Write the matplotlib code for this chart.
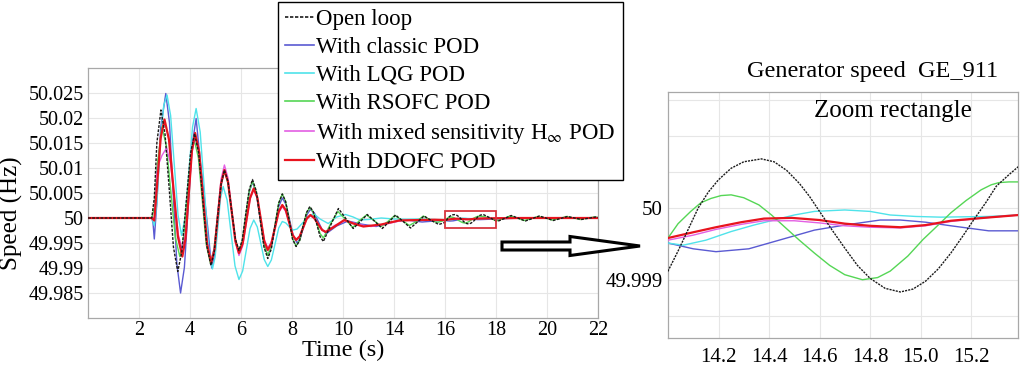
import matplotlib
matplotlib.use('Agg')
import matplotlib.pyplot as plt
from matplotlib.patches import Rectangle, FancyArrow
from matplotlib.lines import Line2D

plt.rcParams['font.family'] = ['Liberation Serif', 'DejaVu Serif']
plt.rcParams['mathtext.fontset'] = 'stix'

# ---------------- data ----------------
t_open = [0, 2.5, 2.6, 2.7, 2.86, 3.02, 3.19, 3.35, 3.52, 3.68, 3.85, 4.02, 4.18, 4.34, 4.5, 4.66, 4.82, 4.95, 5.08, 5.22,
          5.35, 5.49, 5.63, 5.78, 5.92, 6.05, 6.18, 6.32, 6.45, 6.6, 6.75, 6.9, 7.05, 7.19, 7.33, 7.48, 7.62, 7.75, 7.89, 8.02,
          8.16, 8.3, 8.43, 8.57, 8.7, 8.83, 8.97, 9.1, 9.23, 9.52, 9.82, 10.11, 10.4, 10.68, 10.95, 11.25, 11.54, 11.8, 12.06,
          12.36, 12.65, 12.92, 13.18, 13.46, 13.76,
          14.0, 14.04, 14.08, 14.12, 14.16, 14.2, 14.25, 14.3, 14.37, 14.42, 14.47, 14.52, 14.56, 14.6, 14.65, 14.7, 14.75,
          14.8, 14.86, 14.92, 14.97, 15.02, 15.07, 15.12, 15.17, 15.21, 15.26, 15.3, 15.35, 15.39,
          15.5, 15.78, 16.05, 16.33, 16.6, 16.88, 17.15, 17.43, 17.7, 17.98, 18.25, 18.53, 18.8, 19.08, 19.35, 19.63,
          19.9, 20.0]
v_open = [50.0, 50.0, 50.004, 50.015, 50.0216, 50.0168, 50.0055, 49.9942, 49.9893, 49.9933, 50.0031, 50.0129, 50.0169,
          50.0130, 50.0037, 49.9944, 49.9905, 49.9932, 50.0000, 50.0068, 50.0096, 50.0073, 50.0016, 49.9958, 49.9935,
          49.9956, 50.0006, 50.0056, 50.0077, 50.0054, 49.9998, 49.9942, 49.9919, 49.9938, 49.9984, 50.0030, 50.0048,
          50.0033, 49.9996, 49.9958, 49.9943, 49.9955, 49.9983, 50.0011, 50.0023, 50.0013, 49.9988, 49.9963, 49.9953,
          49.9986, 50.0019, 49.9999, 49.9979, 49.9993, 50.0007, 49.9993, 49.9979, 49.9992, 50.0006, 49.9993, 49.9980,
          49.9992, 50.0004, 49.9995, 49.9987,
          49.99912, 49.9994, 49.9997, 50.0, 50.00022, 50.00039, 50.00055, 50.00064, 50.00068, 50.00064, 50.00052,
          50.00034, 50.00016, 49.99995, 49.99969, 49.99944, 49.9992, 49.99902, 49.99888, 49.99883, 49.99887, 49.99898,
          49.99915, 49.99937, 49.99962, 49.99983, 50.00008, 50.0003, 50.00046, 50.00058,
          50.0007, 50.0000, 49.9993, 49.9999, 50.0005, 49.99995, 49.9994, 49.9999, 50.0004, 49.99995, 49.9995,
          49.9999, 50.0003, 50.0, 49.9997, 49.99995, 50.0002, 50.0001]

t_classic = [0, 2.5, 2.55, 2.6, 2.7, 2.85, 3.05, 3.195, 3.34, 3.485, 3.63, 3.78, 3.935, 4.09, 4.24, 4.39, 4.545, 4.7, 4.85,
             4.975, 5.1, 5.225, 5.35, 5.49, 5.635, 5.78, 5.92, 6.05, 6.185, 6.32, 6.45, 6.6, 6.75, 6.9, 7.05, 7.19, 7.335,
             7.48, 7.62, 7.765, 7.91, 8.055, 8.2, 8.33, 8.46, 8.59, 8.72, 8.88, 9.03, 9.19, 9.35, 9.75, 10.2, 10.7, 11.3,
             11.9, 12.5, 13.1, 13.6, 14.0, 14.1, 14.19, 14.32, 14.45, 14.58, 14.7, 14.84, 14.92, 15.02, 15.12, 15.27,
             15.39, 16.0, 17.0, 18.0, 20.0]
v_classic = [50.0, 50.0, 49.999, 49.9958, 50.003, 50.018, 50.0249, 50.0191, 50.005, 49.9908, 49.985, 49.9901, 50.0025,
             50.0148, 50.0199, 50.012, 50.005, 49.9979, 49.990, 49.9929, 49.9998, 50.0067, 50.0096, 50.0072, 50.0014,
             49.9956, 49.9932, 49.9952, 50.0002, 50.0051, 50.0072, 50.005, 49.99985, 49.9947, 49.9925, 49.9942, 49.9983,
             50.0023, 50.004, 50.0027, 49.9995, 49.9963, 49.995, 49.996, 49.9984, 50.0007, 50.0017, 50.0010, 49.9993,
             49.9976, 49.9969, 49.9984, 49.9994, 49.9988, 49.9983, 49.9992, 49.9996, 49.9992, 49.9994, 49.99951,
             49.99943, 49.99939, 49.99943, 49.99956, 49.99969, 49.99976, 49.99983, 49.99983, 49.9998, 49.99975,
             49.99968, 49.99968, 49.9998, 50.0, 50.0, 50.0]

t_lqg = [0, 2.5, 2.6, 2.7, 2.85, 2.97, 3.1, 3.24, 3.385, 3.53, 3.67, 3.81, 3.955, 4.1, 4.24, 4.4, 4.56, 4.72, 4.88, 4.985,
         5.09, 5.195, 5.3, 5.455, 5.61, 5.765, 5.92, 6.065, 6.21, 6.355, 6.5, 6.64, 6.775, 6.91, 7.05, 7.19, 7.335, 7.48,
         7.62, 7.76, 7.9, 8.05, 8.2, 8.5, 8.84, 9.1, 9.42, 9.75, 10.1, 10.4, 10.65, 11.0, 11.5, 12.0, 12.5, 13.0, 13.5,
         14.0, 14.06, 14.15, 14.25, 14.34, 14.42, 14.5, 14.58, 14.7, 14.8, 14.88, 14.98, 15.08, 15.27, 15.39, 16.0,
         17.0, 20.0]
v_lqg = [50.0, 50.0, 49.9985, 50.003, 50.016, 50.0225, 50.0246, 50.0205, 50.0106, 50.0006, 49.9965, 50.0002, 50.0092,
         50.0182, 50.0219, 50.0172, 50.0059, 49.9945, 49.9898, 49.9922, 49.998, 50.0039, 50.0063, 50.0036, 49.997,
         49.9904, 49.9877, 49.9894, 49.99365, 49.9979, 49.9996, 49.9982, 49.995, 49.9917, 49.9903, 49.9916, 49.9948,
         49.998, 49.9993, 49.999, 49.9982, 49.9976, 49.9978, 49.9995, 50.0009, 49.9998, 49.9989, 50.0002, 50.0007,
         50.0002, 49.9996, 49.9997, 50.0, 49.9998, 49.99975, 49.9998, 49.9997, 49.99951, 49.99948, 49.99955, 49.99967,
         49.99976, 49.99983, 49.9999, 49.99995, 49.99997, 49.99995, 49.9999, 49.99988, 49.99987, 49.99988, 49.9999,
         49.9999, 50.0, 50.0]

t_rsofc = [0, 2.5, 2.6, 2.7, 2.9, 3.075, 3.25, 3.425, 3.6, 3.74, 3.885, 4.03, 4.17, 4.33, 4.485, 4.64, 4.8, 4.94, 5.075,
           5.21, 5.35, 5.49, 5.635, 5.78, 5.92, 6.05, 6.185, 6.32, 6.45, 6.6, 6.75, 6.9, 7.05, 7.19, 7.335, 7.48, 7.62,
           7.75, 7.89, 8.02, 8.16, 8.3, 8.43, 8.57, 8.7, 8.83, 8.97, 9.1, 9.23, 9.52, 9.8, 10.1, 10.38, 10.65, 10.92,
           11.22, 11.5, 11.76, 12.03, 12.33, 12.6, 12.88, 13.15, 13.42, 13.7,
           14.0, 14.04, 14.09, 14.13, 14.17, 14.21, 14.25, 14.3, 14.36, 14.41, 14.46, 14.52, 14.58, 14.64, 14.7, 14.77,
           14.83, 14.88, 14.95, 15.01, 15.07, 15.12, 15.18, 15.24, 15.28, 15.31, 15.35, 15.39,
           15.5, 15.8, 16.0, 16.3, 16.55, 16.85, 17.1, 17.4, 17.65, 17.95, 18.2, 18.5, 18.75, 19.05, 19.3, 19.6,
           19.85, 20.0]
v_rsofc = [50.0, 50.0, 50.002, 50.010, 50.0182, 50.0144, 50.0052, 49.9961, 49.9923, 49.9957, 50.004, 50.0122, 50.0156,
           50.012, 50.0033, 49.9946, 49.991, 49.9937, 50.0002, 50.0067, 50.0094, 50.007, 50.0014, 49.9957, 49.9933,
           49.9954, 50.0004, 50.0053, 50.0074, 50.0052, 50.0, 49.9947, 49.9925, 49.9943, 49.9987, 50.003, 50.0048,
           50.0033, 49.9996, 49.9959, 49.9944, 49.9955, 49.9983, 50.001, 50.0021, 50.0012, 49.99905, 49.9969, 49.996,
           49.9989, 50.0013, 49.9997, 49.9981, 49.9995, 50.0006, 49.9995, 49.9983, 49.9993, 50.0005, 49.9995, 49.9985,
           49.9993, 50.0004, 49.9996, 49.9991,
           49.99958, 49.99978, 49.99995, 50.00007, 50.00013, 50.00017, 50.00018, 50.00014, 50.00004, 49.9999,
           49.99974, 49.99955, 49.99937, 49.9992, 49.99907, 49.999, 49.99903, 49.99912, 49.99933, 49.99956, 49.99976,
           49.99993, 50.0001, 50.00025, 50.00032, 50.00035, 50.00036, 50.00036,
           50.0003, 49.99995, 49.9994, 49.9999, 50.0004, 49.99995, 49.9995, 49.9999, 50.0003, 50.0, 49.9996, 49.9999,
           50.0003, 50.0, 49.9997, 50.0, 50.0002, 50.0001]

t_hinf = [0, 2.5, 2.6, 2.7, 2.75, 2.9, 3.08, 3.235, 3.39, 3.545, 3.7, 3.825, 3.95, 4.075, 4.2, 4.36, 4.515, 4.67, 4.83,
          4.96, 5.09, 5.22, 5.35, 5.49, 5.635, 5.78, 5.92, 6.065, 6.21, 6.355, 6.5, 6.64, 6.775, 6.91, 7.05, 7.19, 7.335,
          7.48, 7.62, 7.755, 7.89, 8.025, 8.16, 8.3, 8.44, 8.58, 8.72, 8.87, 9.02, 9.16, 9.3, 9.7, 10.1, 10.6, 11.1, 11.7,
          12.3, 13.0, 13.6, 14.0, 14.1, 14.19, 14.29, 14.38, 14.5, 14.6, 14.7, 14.8, 14.92, 15.02, 15.12, 15.25, 15.39,
          16.0, 20.0]
v_hinf = [50.0, 50.0, 50.0, 50.009, 50.0105, 50.0125, 50.014, 50.011, 50.0038, 49.9966, 49.9936, 49.997, 50.005, 50.0131,
          50.0165, 50.0128, 50.0039, 49.995, 49.9913, 49.9941, 50.001, 50.0078, 50.0106, 50.008, 50.0016, 49.9952,
          49.9925, 49.9944, 49.9991, 50.0038, 50.0057, 50.004, 49.9999, 49.9957, 49.994, 49.9952, 49.9982, 50.0011,
          50.0023, 50.0013, 49.999, 49.9967, 49.9957, 49.9964, 49.9981, 49.9998, 50.0005, 50.0, 49.9989, 49.9978,
          49.9972, 49.9986, 49.9995, 49.9987, 49.9983, 49.9988, 49.9995, 49.9996, 49.9996, 49.99955, 49.99962,
          49.9997, 49.99977, 49.99982, 49.99982, 49.99979, 49.99975, 49.99973, 49.99972, 49.99975, 49.99981,
          49.99986, 49.9999, 49.99995, 50.0]

t_ddofc = [0, 2.5, 2.6, 2.7, 2.85, 3.0, 3.175, 3.35, 3.525, 3.7, 3.825, 3.95, 4.075, 4.2, 4.36, 4.515, 4.67, 4.83, 4.96,
           5.09, 5.22, 5.35, 5.49, 5.635, 5.78, 5.92, 6.065, 6.21, 6.355, 6.5, 6.64, 6.775, 6.91, 7.05, 7.19, 7.335, 7.48,
           7.62, 7.755, 7.89, 8.025, 8.16, 8.3, 8.44, 8.58, 8.72, 8.87, 9.02, 9.18, 9.33, 9.7, 10.05, 10.4, 10.8, 11.5,
           12.2, 13.0, 13.6, 14.0, 14.1, 14.19, 14.29, 14.38, 14.49, 14.6, 14.7, 14.8, 14.92, 15.02, 15.12, 15.25,
           15.39, 16.0, 17.0, 20.0]
v_ddofc = [50.0, 50.0, 49.9995, 50.006, 50.016, 50.0197, 50.0157, 50.006, 49.9963, 49.9923, 49.9959, 50.0047, 50.0134,
           50.017, 50.0132, 50.004, 49.9948, 49.991, 49.9937, 50.0003, 50.0069, 50.0096, 50.0072, 50.0013, 49.9954,
           49.993, 49.9949, 49.9995, 50.004, 50.0059, 50.0041, 49.9998, 49.9954, 49.9936, 49.9949, 49.9981, 50.0013,
           50.0026, 50.0016, 49.9991, 49.9966, 49.9956, 49.9963, 49.9981, 49.9999, 50.0006, 50.0, 49.9988, 49.9976,
           49.9972, 49.9984, 49.9996, 49.9989, 49.9983, 49.9987, 49.9995, 49.9996, 49.99965, 49.99958, 49.99966,
           49.99973, 49.9998, 49.99985, 49.99986, 49.99983, 49.99978, 49.99975, 49.99973, 49.99976, 49.99982,
           49.99986, 49.9999, 49.99995, 50.0, 50.0]

labels = ['Open loop', 'With classic POD', 'With LQG POD', 'With RSOFC POD',
          r'With mixed sensitivity H$_{\infty}$ POD', 'With DDOFC POD']

main_xticks = [2, 4, 6, 8, 10, 12, 14, 16, 18, 20]
main_xticklabels = ['2', '4', '6', '8', '10', '14', '16', '18', '20', '22']
main_yticks = [49.985, 49.99, 49.995, 50.0, 50.005, 50.01, 50.015, 50.02, 50.025]
main_yticklabels = ['49.985', '49.99', '49.995', '50', '50.005', '50.01', '50.015', '50.02', '50.025']

zoom_xticks = [14.2, 14.4, 14.6, 14.8, 15.0, 15.2]
zoom_xticklabels = ['14.2', '14.4', '14.6', '14.8', '15.0', '15.2']
zoom_yticks = [49.9985, 49.999, 49.9995, 50.0, 50.0005, 50.001, 50.0015]
zoom_yticklabels = ['', '49.999', '', '50', '', '', '']

# zoom rectangle (data units of main axes)
rect_t = (14.0, 16.0)
rect_v = (49.998, 50.0014)

# ---------------- styles ----------------
series = [(t_open, v_open), (t_classic, v_classic), (t_lqg, v_lqg),
          (t_rsofc, v_rsofc), (t_hinf, v_hinf), (t_ddofc, v_ddofc)]
styles = [dict(color='#1a1a1a', lw=1.0, ls=(0, (2, 1)), zorder=4),
          dict(color='#5a5ad2', lw=1.0, ls='-', zorder=3),
          dict(color='#4fe3ea', lw=1.0, ls='-', zorder=3),
          dict(color='#55d655', lw=1.0, ls='-', zorder=3),
          dict(color='#e35fe3', lw=1.0, ls='-', zorder=3),
          dict(color='#e8141e', lw=1.6, ls='-', zorder=3.5)]

spine_c = '#a8a8a8'
grid_c = '#e6e6e6'

fig = plt.figure(figsize=(10.24, 3.68), dpi=100)

# ---------------- main axes ----------------
ax = fig.add_axes([88 / 1024, 1 - 318 / 368, 510 / 1024, 250 / 368])
for (t, v), st in zip(series, styles):
    ax.plot(t, v, **st)
ax.set_xlim(0, 20)
ax.set_ylim(49.98, 50.03)
ax.set_xticks(main_xticks)
ax.set_xticklabels(main_xticklabels)
ax.set_yticks(main_yticks)
ax.set_yticklabels(main_yticklabels)
ax.grid(True, color=grid_c, lw=0.8)
ax.set_axisbelow(True)
ax.tick_params(length=0, labelsize=14.5)
ax.tick_params(axis='x', pad=2)
ax.tick_params(axis='y', pad=3)
for s in ax.spines.values():
    s.set_color(spine_c)
    s.set_linewidth(0.9)
ax.set_xlabel('Time (s)', fontsize=17.5, labelpad=0)
ax.set_ylabel('Speed (Hz)', fontsize=18)
ax.yaxis.set_label_coords(-0.128, 0.42)
ax.add_patch(Rectangle((rect_t[0], rect_v[0]), rect_t[1] - rect_t[0], rect_v[1] - rect_v[0],
                       fill=False, ec='#d8363e', lw=1.3, zorder=6))

# ---------------- zoom axes ----------------
ax2 = fig.add_axes([668 / 1024, 1 - 338 / 368, 350 / 1024, 246 / 368])
for (t, v), st in zip(series, styles):
    st2 = dict(st)
    if st2['ls'] != '-':
        st2['ls'] = (0, (1.5, 0.8))
    ax2.plot(t, v, **st2)
ax2.set_xlim(14.0, 15.386)
ax2.set_ylim(49.99819, 50.00161)
ax2.set_xticks(zoom_xticks)
ax2.set_xticklabels(zoom_xticklabels)
ax2.set_yticks(zoom_yticks)
ax2.set_yticklabels(zoom_yticklabels)
ax2.grid(True, color=grid_c, lw=0.8)
ax2.set_axisbelow(True)
ax2.tick_params(length=0, labelsize=15)
ax2.tick_params(axis='x', pad=7)
ax2.tick_params(axis='y', pad=4)
for s in ax2.spines.values():
    s.set_color(spine_c)
    s.set_linewidth(0.9)

fig.text(873 / 1024, 1 - 71 / 368, 'Generator speed  GE_911', ha='center', va='center', fontsize=17.5)
fig.text(893 / 1024, 1 - 111 / 368, 'Zoom rectangle', ha='center', va='center', fontsize=18)

# ---------------- arrow ----------------
fig.add_artist(FancyArrow(502 / 1024, 1 - 246 / 368, 138 / 1024, 0, width=8 / 368, head_width=19 / 368,
                          head_length=70 / 1024, length_includes_head=True, fc='white', ec='black', lw=2.2,
                          transform=fig.transFigure, zorder=10))

# ---------------- legend ----------------
handles = [Line2D([], [], color=st['color'], lw=st['lw'] if st['lw'] > 1.2 else 1.2, ls=st['ls']) for st in styles]
leg = fig.legend(handles, labels, loc='upper left', bbox_to_anchor=(278 / 1024, 1 - 2 / 368),
                 bbox_transform=fig.transFigure, frameon=True, fancybox=False, edgecolor='black',
                 framealpha=1, fontsize=16.5, handlelength=1.25, handletextpad=0.12, labelspacing=0.3,
                 borderpad=0.3, borderaxespad=0)
leg.get_frame().set_linewidth(1.0)

fig.savefig('out.png', dpi=100)
